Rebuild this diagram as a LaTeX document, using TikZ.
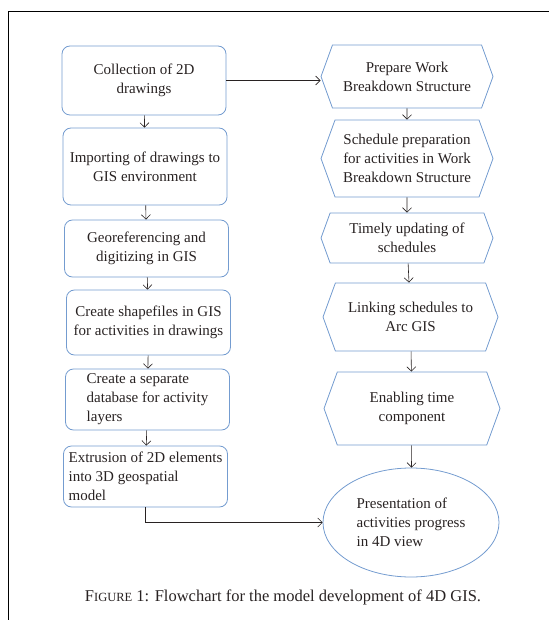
\documentclass[tikz,border=0pt]{standalone}
\usepackage{fontspec}
\setmainfont{Liberation Serif}
\usepackage{tikz}
\usetikzlibrary{shapes.symbols,shapes.geometric,arrows.meta}

\definecolor{boxblue}{RGB}{116,156,208}
\definecolor{inkgray}{RGB}{40,34,34}

\begin{document}
\begin{tikzpicture}[x=1pt,y=-1pt,
    every node/.style={font=\fontsize{15}{19}\selectfont,text=inkgray},
    lbox/.style={draw=boxblue,line width=0.8pt,rounded corners=8pt,minimum width=164pt,align=center,inner sep=2pt},
    hexbox/.style={draw=boxblue,line width=0.8pt,signal,signal to=west and east,signal pointer angle=140,minimum width=172pt,align=center,inner sep=2pt},
    flow/.style={draw=inkgray,line width=0.6pt,-{Straight Barb[length=4.5pt,width=9pt]}}]
    \useasboundingbox (0,0) rectangle (549,620);
    \draw[line width=1.4pt] (8.5,620) -- (8.5,11.5) -- (549,11.5);

    \node[lbox,minimum height=69pt] (collect) at (144,80.5) {Collection of 2D\\drawings};
    \node[lbox,minimum height=77pt] (import) at (145,166.5) {Importing of drawings to\\GIS environment};
    \node[lbox,minimum height=57pt] (georef) at (146.5,248.5) {Georeferencing and\\digitizing in GIS};
    \node[lbox,minimum height=65pt] (shapef) at (148.5,322.5) {Create shapefiles in GIS\\for activities in drawings};
    \node[lbox,minimum height=61pt,align=left] (database) at (147.5,399.5) {Create a separate\\database for activity\\layers};
    \node[lbox,minimum height=61pt,align=left] (extrude) at (145.5,476.5) {Extrusion of 2D elements\\into 3D geospatial\\model};

    \node[hexbox,minimum height=63pt] (wbs) at (407,76.5) {Prepare Work\\Breakdown Structure};
    \node[hexbox,minimum height=77pt] (sched) at (407,158.5) {Schedule preparation\\for activities in Work\\Breakdown Structure};
    \node[hexbox,minimum height=50pt,inner sep=0pt] (update) at (407,238) {Timely updating of\\schedules};
    \node[hexbox,minimum height=68pt,minimum width=175pt] (linking) at (410.5,317) {Linking schedules to\\Arc GIS};
    \node[hexbox,minimum height=73pt,minimum width=176pt] (timecomp) at (412,408.5) {Enabling time\\component};
    \node[draw=boxblue,line width=0.8pt,ellipse,minimum width=176pt,minimum height=109pt,inner sep=0pt,align=left] (present) at (411,522.5) {Presentation of\\activities progress\\in 4D view};

    \draw[flow] (collect.east) -- (collect.east -| wbs.west);
    \draw[flow] (collect) -- (import);
    \draw[flow] (import) -- (georef);
    \draw[flow] (georef) -- (shapef);
    \draw[flow] (shapef) -- (database);
    \draw[flow] (database) -- (extrude);
    \draw[flow] (extrude.south) |- (present.west);

    \draw[flow] (wbs) -- (sched);
    \draw[flow] (sched) -- (update);
    \draw[flow] (update) -- (linking);
    \draw[flow] (linking) -- (timecomp);
    \draw[flow] (timecomp) -- (present);

    \node[font=\fontsize{16.5}{19}\selectfont] (caption) at (283,597) {F{\fontsize{12.5}{14}\selectfont IGURE} 1: Flowchart for the model development of 4D GIS.};
\end{tikzpicture}
\end{document}
